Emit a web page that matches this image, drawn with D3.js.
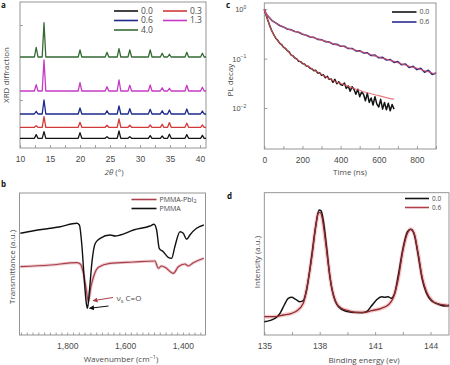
<!DOCTYPE html>
<html><head><meta charset="utf-8">
<script src="https://cdn.jsdelivr.net/npm/d3@7"></script>
<style>
body{margin:0;background:#fff;}
svg{display:block;font-family:"Open Sans","Noto Sans",sans-serif;}
</style></head><body>
<svg id="chart" width="450" height="365"></svg>
<script>
// ================= DATA =================
// Panel a: XRD (peak positions in 2θ, offsets and peak heights in a.u.)
const xrdPeaks = [12.7, 14.0, 20.0, 24.5, 26.5, 28.3, 31.7, 33.7, 34.9, 37.8, 40.4];
const xrdSeries = ["0.0", "0.3", "0.6", "1.3", "4.0"];
const xrdBase = [9.7, 20.7, 34, 57, 91];
const xrd00 = [3.7, 6.7, 5.7, 1.7, 7.3, 1.7, 2.7, 2.3, 4.0, 3.7, 3.0];
const xrd03 = [1.7, 10.7, 5.0, 2.0, 8.3, 2.0, 2.3, 3.0, 4.7, 4.0, 2.3];
const xrd06 = [2.7, 14.0, 6.0, 3.3, 8.0, 5.3, 4.7, 3.3, 4.0, 5.0, 3.0];
const xrd13 = [6.3, 31.0, 8.3, 4.3, 11.0, 5.7, 6.0, 3.3, 2.7, 5.7, 3.7];
const xrd40 = [9.7, 34.3, 7.0, 4.7, 8.3, 7.0, 7.0, 3.7, 2.7, 4.7, 3.7];
const xrdTicks = [10, 15, 20, 25, 30, 35, 40];

// Panel b: FTIR (wavenumber, transmittance a.u.)
const ftirPMMA = [[1962,101.7],[1916,104.3],[1859,106.7],[1824,108.3],[1767,111.7],[1758,110],[1749,88.3],[1741,55],[1734,31.7],[1730,26.7],[1723,45],[1715,71.7],[1703,91.7],[1686,96.7],[1652,100],[1634,99],[1617,100],[1571,105],[1514,109],[1500,110.7],[1491,105],[1482,86.7],[1468,83.3],[1451,77.7],[1439,76.7],[1428,88.3],[1410,103.3],[1399,101.7],[1387,95.7],[1376,100],[1353,106.7],[1328,110]];
const ftirPbI2 = [[1962,68.3],[1859,70],[1767,72.3],[1755,71],[1744,61.7],[1734,45],[1727,33.3],[1718,48.3],[1709,58.3],[1692,67.7],[1652,71.7],[1571,73],[1497,74],[1485,66.7],[1474,69],[1462,67.7],[1433,61.7],[1416,68.3],[1393,71],[1382,69],[1364,72.3],[1328,76.7]];
const ftirTicks = [1800, 1600, 1400];

// Panel c: PL decay
const plTimes00 = d3.range(0, 690, 10);
const pl00 = [1.00,0.75,0.58,0.45,0.36,0.305,0.26,0.236,0.207,0.193,0.172,0.162,0.146,0.137,0.119,0.114,0.103,0.099,0.089,0.087,0.080,0.078,0.071,0.070,0.064,0.062,0.057,0.058,0.051,0.052,0.046,0.047,0.041,0.044,0.038,0.039,0.033,0.038,0.031,0.034,0.030,0.029,0.032,0.025,0.028,0.022,0.027,0.024,0.019,0.024,0.017,0.021,0.019,0.014,0.020,0.013,0.016,0.0115,0.017,0.012,0.0105,0.015,0.0095,0.013,0.0092,0.0125,0.0088,0.0118,0.0095];
const pl00Fit = [[0,1.0],[10,0.759],[20,0.575],[30,0.447],[40,0.363],[50,0.302],[60,0.263],[70,0.234],[80,0.209],[90,0.191],[100,0.174],[120,0.148],[140,0.120],[160,0.105],[180,0.0912],[200,0.0813],[220,0.0724],[240,0.0661],[260,0.0589],[280,0.0537],[300,0.0479],[320,0.0437],[340,0.0398],[360,0.0363],[380,0.0331],[400,0.0316],[420,0.0295],[440,0.0275],[460,0.0257],[480,0.0240],[500,0.0229],[520,0.0214],[540,0.0204],[560,0.0195],[580,0.0186],[600,0.0178],[620,0.0170],[640,0.0162],[660,0.0155],[680,0.0151]];
const pl06 = [[0,1.00],[10,0.80],[20,0.72],[40,0.59],[60,0.53],[80,0.47],[100,0.44],[120,0.40],[140,0.385],[160,0.355],[180,0.343],[200,0.312],[220,0.299],[240,0.275],[260,0.270],[280,0.246],[300,0.241],[320,0.221],[340,0.218],[360,0.197],[380,0.195],[400,0.178],[420,0.178],[440,0.160],[460,0.161],[480,0.144],[500,0.145],[520,0.131],[540,0.131],[560,0.116],[580,0.118],[600,0.104],[620,0.106],[640,0.094],[660,0.096],[680,0.084],[700,0.087],[720,0.075],[740,0.078],[760,0.066],[780,0.070],[800,0.060],[820,0.064],[840,0.053],[860,0.058],[880,0.048],[900,0.051]];
const pl06Fit = [[0,1.0],[10,0.813],[20,0.716],[40,0.596],[60,0.525],[80,0.479],[100,0.437],[120,0.403],[140,0.380],[160,0.359],[180,0.339],[200,0.316],[220,0.295],[240,0.279],[260,0.266],[280,0.251],[300,0.237],[320,0.226],[340,0.214],[360,0.202],[380,0.191],[400,0.182],[420,0.174],[440,0.164],[460,0.157],[480,0.148],[500,0.141],[520,0.135],[540,0.127],[560,0.120],[580,0.114],[600,0.108],[620,0.102],[640,0.0977],[660,0.0923],[680,0.0881],[700,0.0832],[720,0.0785],[740,0.0741],[760,0.0700],[780,0.0668],[800,0.0638],[820,0.0603],[840,0.0569],[860,0.0543],[880,0.0513],[900,0.0490]];
const plTimeTicks = [0, 200, 400, 600, 800];
const plDecadeTicks = [1, 0.1, 0.01];

// Panel d: XPS (binding energy eV, intensity a.u.)
const xps00 = [[135,13.3],[135.58,16.7],[135.85,21.7],[136.08,30],[136.3,36.7],[136.48,37.7],[136.7,35.7],[136.93,33.3],[137.11,34.3],[137.29,45],[137.56,78.3],[137.78,108.3],[137.96,125],[138.07,124.3],[138.19,115],[138.37,88.3],[138.55,58.3],[138.82,35],[139.18,25.7],[139.72,22.7],[140.26,22.3],[140.53,23.3],[140.8,29],[141.07,35],[141.34,38.3],[141.52,37.7],[141.7,38.3],[141.88,36.7],[142.06,41.7],[142.24,58.3],[142.51,86.7],[142.75,103.3],[142.93,105.7],[143.11,101],[143.33,80],[143.54,56.7],[143.78,41.7],[144.05,34.3],[144.41,31],[144.77,29],[145,29.7]];
const xps06 = [[135,18.3],[135.58,18.3],[136.03,20],[136.48,21.7],[136.75,24],[137.11,31.7],[137.38,55],[137.6,81.7],[137.78,108.3],[137.92,121.7],[138.01,122.7],[138.14,116.7],[138.28,98.3],[138.46,71.7],[138.64,48.3],[138.91,31.7],[139.18,26.7],[139.54,24.3],[139.9,22.7],[140.44,22.7],[140.8,24.3],[141.34,26.7],[141.7,30],[141.97,36.7],[142.24,55],[142.51,85],[142.75,101.7],[142.93,105.7],[143.11,101.7],[143.33,81.7],[143.54,58.3],[143.78,43.3],[144.05,35],[144.41,31],[144.77,30],[145,29]];
const xpsTicks = [135, 136.5, 138, 139.5, 141, 142.5, 144];
const xpsLabels = [135, 138, 141, 144];

// ================= DRAW =================
const svg = d3.select("#chart");
const AX = "#8a8a8a", TXT = "#4a4a4a";

function frame(x0, y0, x1, y1) {
  svg.append("rect").attr("x", x0).attr("y", y0).attr("width", x1 - x0).attr("height", y1 - y0)
    .attr("fill", "none").attr("stroke", AX).attr("stroke-width", 0.9);
}
function styleAxis(g, fs) {
  g.select(".domain").remove();
  g.selectAll(".tick line").attr("stroke", AX).attr("stroke-width", 0.8);
  g.selectAll(".tick text").attr("fill", TXT).attr("font-size", fs || 8.5);
}
function label(x, y, txt, rot, fs) {
  const t = svg.append("text").attr("fill", TXT).attr("font-size", fs || 8)
    .attr("text-anchor", "middle")
    .attr("transform", `translate(${x},${y})` + (rot ? " rotate(-90)" : ""));
  t.text(txt);
  return t;
}
function panelLetter(x, y, s) {
  svg.append("text").attr("x", x).attr("y", y).attr("font-size", 8).attr("font-weight", "bold")
    .attr("fill", "#111").text(s);
}
function legendItem(x1, x2, y, color, txt, fs) {
  svg.append("line").attr("x1", x1).attr("x2", x2).attr("y1", y).attr("y2", y)
    .attr("stroke", color).attr("stroke-width", 1.6);
  svg.append("text").attr("x", x2 + 3).attr("y", y).attr("dy", "0.35em")
    .attr("font-size", fs || 8.5).attr("fill", TXT).html(txt);
}

// ---------- Panel a ----------
{
  const L = 20, R = 206, T = 2, B = 148;
  const x = d3.scaleLinear().domain([10, 41]).range([L, R]);
  const y = d3.scaleLinear().domain([0, 146]).range([B, T]);
  frame(L, T, R, B);
  const minor = d3.range(10, 41, 2.5);
  const gx = svg.append("g").attr("transform", `translate(0,${B})`)
    .call(d3.axisBottom(x).tickValues(minor).tickSize(-3).tickPadding(8)
      .tickFormat(d => xrdTicks.includes(d) ? d : ""));
  styleAxis(gx, 8.5);
  const gy = svg.append("g").attr("transform", `translate(${L},0)`)
    .call(d3.axisLeft(y).tickValues([48, 123]).tickSize(-3).tickFormat(""));
  styleAxis(gy);
  const colors = ["#151515", "#d23a3a", "#1c2a8c", "#c63ac6", "#356a35"];
  const sets = [xrd00, xrd03, xrd06, xrd13, xrd40];
  const line = d3.line().x(d => x(d[0])).y(d => y(d[1]));
  sets.forEach((hs, i) => {
    const base = xrdBase[i];
    const pts = [[10, base]];
    xrdPeaks.forEach((p, k) => {
      pts.push([p - 0.3, base], [p, base + hs[k]], [p + 0.3, base]);
    });
    pts.push([41, base]);
    svg.append("path").datum(pts).attr("d", line).attr("fill", "none")
      .attr("stroke", colors[i]).attr("stroke-width", 1.3).attr("stroke-linejoin", "round");
  });
  legendItem(114, 138, 11, colors[0], xrdSeries[0]);
  legendItem(114, 138, 20.5, colors[2], xrdSeries[2]);
  legendItem(114, 138, 30, colors[4], xrdSeries[4]);
  legendItem(163, 187, 11, colors[1], xrdSeries[1]);
  legendItem(163, 187, 20.5, colors[3], xrdSeries[3]);
  label(9, 75, "XRD diffraction", true, 8);
  const xl = svg.append("text").attr("x", 114).attr("y", 175).attr("text-anchor", "middle")
    .attr("font-size", 8).attr("fill", TXT);
  xl.append("tspan").attr("font-style", "italic").text("2θ");
  xl.append("tspan").text(" (°)");
  panelLetter(1, 8, "a");
}

// ---------- Panel c ----------
{
  const L = 264.3, R = 436, T = 3, B = 149;
  const x = d3.scaleLinear().domain([0, 900]).range([L, R]);
  const y = d3.scaleLog().domain([0.00148, 1.34]).range([B, T]);
  frame(L, T, R, B);
  const gx = svg.append("g").attr("transform", `translate(0,${B})`)
    .call(d3.axisBottom(x).tickValues(d3.range(0, 901, 100)).tickSize(-3).tickPadding(8)
      .tickFormat(d => plTimeTicks.includes(d) ? d : ""));
  styleAxis(gx, 8.5);
  const gy = svg.append("g").attr("transform", `translate(${L},0)`)
    .call(d3.axisLeft(y).tickValues(plDecadeTicks).tickSize(-3).tickPadding(18).tickFormat(""));
  styleAxis(gy, 7.5);
  gy.selectAll(".tick text").each(function(d) {
    const t = d3.select(this);
    const e = Math.round(Math.log10(d));
    t.text("10");
    t.append("tspan").attr("dy", -3.2).attr("font-size", 5).text(e === 0 ? "0" : "−" + (-e));
  });
  const line = d3.line().x(d => x(d[0])).y(d => y(d[1]));
  const d00 = plTimes00.map((t, i) => [t, pl00[i]]);
  svg.append("path").datum(d00).attr("d", line).attr("fill", "none")
    .attr("stroke", "#141414").attr("stroke-width", 1.5).attr("stroke-linejoin", "round");
  svg.append("path").datum(pl06).attr("d", line).attr("fill", "none")
    .attr("stroke", "#2c2a8e").attr("stroke-width", 1.6).attr("stroke-linejoin", "round");
  [pl00Fit, pl06Fit].forEach(f => {
    svg.append("path").datum(f).attr("d", d3.line().curve(d3.curveMonotoneX).x(d => x(d[0])).y(d => y(d[1])))
      .attr("fill", "none").attr("stroke", "#e25a62").attr("stroke-opacity", 0.8).attr("stroke-width", 1.2);
  });
  legendItem(392, 416.5, 12, "#141414", "0.0", 7);
  legendItem(392, 416.5, 22, "#2c2a8e", "0.6", 7);
  label(232.5, 80, "PL decay", true, 8);
  label(350, 174.5, "Time (ns)", false, 8);
  panelLetter(226, 8, "c");
}

// ---------- Panel b ----------
{
  const L = 19.5, R = 205.5, T = 193, B = 335;
  const x = d3.scaleLinear().domain([1965, 1322]).range([L, R]);
  const y = d3.scaleLinear().domain([0, 142]).range([B, T]);
  frame(L, T, R, B);
  const gx = svg.append("g").attr("transform", `translate(0,${B})`)
    .call(d3.axisBottom(x).tickValues(d3.range(1960, 1321, -20)).tickSize(-2.5).tickPadding(8)
      .tickFormat(d => ftirTicks.includes(d) ? d3.format(",")(d) : ""));
  styleAxis(gx, 8.5);
  const line = d3.line().curve(d3.curveMonotoneX).x(d => x(d[0])).y(d => y(d[1]));
  const redC = "#a8404c";
  svg.append("path").datum(ftirPbI2).attr("d", line).attr("fill", "none")
    .attr("stroke", "#d88a92").attr("stroke-opacity", 0.45).attr("stroke-width", 3);
  svg.append("path").datum(ftirPbI2).attr("d", line).attr("fill", "none")
    .attr("stroke", redC).attr("stroke-width", 1.2);
  svg.append("path").datum(ftirPMMA).attr("d", line).attr("fill", "none")
    .attr("stroke", "#111").attr("stroke-width", 1.4);
  // legend
  legendItem(131.5, 156.5, 199.5, redC, "PMMA-PbI<tspan dy='1.5' font-size='5.5'>2</tspan>", 7);
  legendItem(131.5, 156.5, 208.5, "#111", "PMMA", 7);
  // annotation
  const defs = svg.append("defs");
  [["arR", redC], ["arK", "#111"]].forEach(([id, c]) => {
    defs.append("marker").attr("id", id).attr("viewBox", "0 0 10 10").attr("refX", 9).attr("refY", 5)
      .attr("markerWidth", 5).attr("markerHeight", 5).attr("orient", "auto")
      .append("path").attr("d", "M0,0 L10,5 L0,10 Z").attr("fill", c);
  });
  svg.append("line").attr("x1", 113).attr("y1", 297.5).attr("x2", 93).attr("y2", 300.7)
    .attr("stroke", redC).attr("stroke-width", 1).attr("marker-end", "url(#arR)");
  svg.append("line").attr("x1", 108.5).attr("y1", 306).attr("x2", 89.5).attr("y2", 308.3)
    .attr("stroke", "#111").attr("stroke-width", 1).attr("marker-end", "url(#arK)");
  const ann = svg.append("text").attr("x", 116.5).attr("y", 301).attr("font-size", 8).attr("fill", TXT);
  ann.append("tspan").text("ν");
  ann.append("tspan").attr("dy", 2).attr("font-size", 5.5).text("s");
  ann.append("tspan").attr("dy", -2).text(" C=O");
  label(15, 267, "Transmittance (a.u.)", true, 8);
  const xl = svg.append("text").attr("x", 121).attr("y", 362).attr("text-anchor", "middle")
    .attr("font-size", 8).attr("fill", TXT);
  xl.append("tspan").text("Wavenumber (cm");
  xl.append("tspan").attr("dy", -3).attr("font-size", 5.5).text("−1");
  xl.append("tspan").attr("dy", 3).text(")");
  panelLetter(1, 187, "b");
}

// ---------- Panel d ----------
{
  const L = 264.3, R = 449, T = 192.7, B = 335;
  const x = d3.scaleLinear().domain([135, 145]).range([L, R]);
  const y = d3.scaleLinear().domain([0, 142.3]).range([B, T]);
  frame(L, T, R, B);
  const gx = svg.append("g").attr("transform", `translate(0,${B})`)
    .call(d3.axisBottom(x).tickValues(xpsTicks).tickSize(-3).tickPadding(8)
      .tickFormat(d => xpsLabels.includes(d) ? d : ""));
  styleAxis(gx, 8.5);
  const line = d3.line().curve(d3.curveMonotoneX).x(d => x(d[0])).y(d => y(d[1]));
  svg.append("path").datum(xps06).attr("d", line).attr("fill", "none")
    .attr("stroke", "#f0a0a0").attr("stroke-opacity", 0.5).attr("stroke-width", 4);
  svg.append("path").datum(xps00).attr("d", line).attr("fill", "none")
    .attr("stroke", "#141414").attr("stroke-width", 1.5);
  svg.append("path").datum(xps06).attr("d", line).attr("fill", "none")
    .attr("stroke", "#8e2a32").attr("stroke-width", 1.3);
  legendItem(405, 429, 198.5, "#141414", "0.0", 6.5);
  legendItem(405, 429, 207.5, "#b0404a", "0.6", 6.5);
  label(259.5, 262, "Intensity (a.u.)", true, 8);
  label(364, 363, "Binding energy (ev)", false, 8);
  panelLetter(227, 199, "d");
}
</script>
</body></html>
